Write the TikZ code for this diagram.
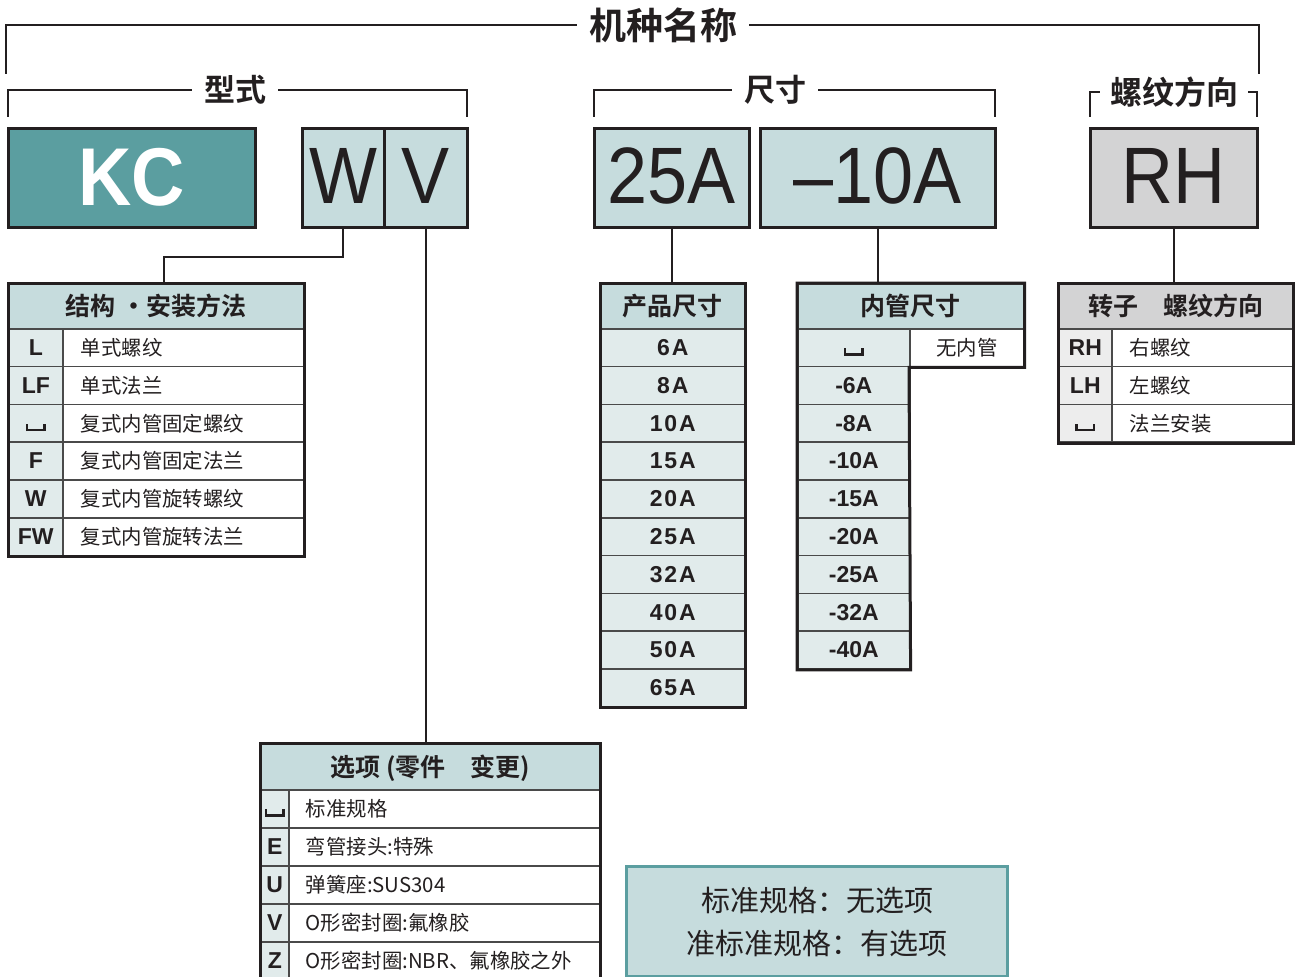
\documentclass[tikz,border=0pt]{standalone}
\usepackage{fontspec}
\setmainfont{Liberation Sans}
\newfontfamily\cjk{Noto Sans CJK SC}[BoldFont={Noto Sans CJK SC Bold}]
\newfontfamily\bigsans{Liberation Sans}[FakeStretch=0.9]
\newcommand\vsp{\rule{1.3pt}{3.6pt}\rule{7.4pt}{1.3pt}\rule{1.3pt}{3.6pt}}
\definecolor{linec}{HTML}{231F20}
\definecolor{gridc}{HTML}{4A4A4A}
\definecolor{kcfill}{HTML}{5B9EA0}
\definecolor{hdrfill}{HTML}{C6DCDD}
\definecolor{lightfill}{HTML}{E1EBEB}
\definecolor{grayhdr}{HTML}{D3D3D4}
\definecolor{graycode}{HTML}{EDEDED}
\tikzset{%
  ttl/.style={font=\cjk\bfseries\fontsize{#1}{#1}\selectfont, text=linec, inner xsep=6pt, inner ysep=0pt},
  brk/.style={draw=linec, line width=1pt},
  bigbox/.style={draw=linec, line width=1.5pt, minimum height=49.5pt, inner sep=0pt, text=linec,
    text height=26pt, text depth=0pt, font=\bigsans\fontsize{40}{40}\selectfont},
  cell/.style={draw=gridc, line width=0.8pt, anchor=north west, inner sep=0pt, minimum height=18.9pt,
    text height=7.8pt, text depth=0pt, text=linec},
  hcell/.style={cell, fill=hdrfill, minimum height=22.5pt, text height=9.2pt, font=\cjk\bfseries\fontsize{12.5}{12.5}\selectfont},
  ccell/.style={cell, fill=lightfill, font=\bfseries\fontsize{11.5}{11.5}\selectfont},
  tcell/.style={cell, fill=white, align=left, inner xsep=9pt, text width=#1, font=\cjk\fontsize{10.2}{10.2}\selectfont},
  frame/.style={draw=linec, line width=1.5pt},
  link/.style={draw=linec, line width=1pt},
}
\begin{document}
\begin{tikzpicture}[x=0.5pt,y=-0.5pt]%
      \useasboundingbox (0,0) rectangle (1296,976);%
      % ~ brackets
      \node[ttl=18.5] (mname) at (663,25) {机种名称};
      \coordinate (mL) at (6,74);
      \coordinate (mR) at (1259,74);
      \draw[brk] (mname) -| (mL);%
      \draw[brk] (mname) -| (mR);%
      \node[ttl=15.5] (tform) at (235,90) {型式};
      \coordinate (fL) at (8,117);
      \coordinate (fR) at (467,117);
      \draw[brk] (tform) -| (fL);%
      \draw[brk] (tform) -| (fR);%
      \node[ttl=15.5] (tsize) at (775,90) {尺寸};
      \coordinate (sL) at (594,117);
      \coordinate (sR) at (995,117);
      \draw[brk] (tsize) -| (sL);%
      \draw[brk] (tsize) -| (sR);%
      \node[ttl=16, inner xsep=5pt] (tthr) at (1174,92) {螺纹方向};
      \coordinate (rL) at (1090,117);
      \coordinate (rR) at (1257,117);
      \draw[brk] (tthr) -| (rL);%
      \draw[brk] (tthr) -| (rR);%
      % ~ code boxes
      \node[bigbox, fill=kcfill, text=white, minimum width=123.5pt, text height=27.5pt,
        font=\bigsans\bfseries\fontsize{41}{41}\selectfont] (KC) at (131.5,177.5) {KC};
      \node[bigbox, fill=hdrfill, minimum width=41pt] (W) at (343,177.5) {W};
      \node[bigbox, fill=hdrfill, minimum width=41.5pt] (V) at (425.5,177.5) {V};
      \node[bigbox, fill=hdrfill, minimum width=77.5pt] (sz25) at (671.5,177.5) {25A};
      \node[bigbox, fill=hdrfill, minimum width=117.5pt] (in10) at (877.5,177.5) {–10A};
      \node[bigbox, fill=grayhdr, minimum width=83.5pt] (RH) at (1173.5,177.5) {RH};
      % ~ structure table
      \node[hcell, minimum width=147.5pt] (sthd) at (8,283) {结构\hspace{3pt}・安装方法};
      \foreach \cd/\tx [count=\i] in {L/单式螺纹,LF/单式法兰,\vsp/复式内管固定螺纹,F/复式内管固定法兰,W/复式内管旋转螺纹,FW/复式内管旋转法兰}%
         {%
            \node[ccell, minimum width=27pt] (stc\i) at (8,{328+(\i-1)*37.8}) {\cd};
            \node[tcell=102.5pt, minimum width=120.5pt] (stt\i) at (62,{328+(\i-1)*37.8}) {\tx};
         }%
      \draw[frame] (sthd.north west) rectangle (stt6.south east);%
      % ~ size table
      \node[hcell, minimum width=72pt] (szhd) at (600,283) {产品尺寸};
      \foreach \s [count=\i] in {6A,8A,10A,15A,20A,25A,32A,40A,50A,65A}%
         {%
            \node[ccell, minimum width=72pt, font=\bfseries\fontsize{11.5}{11.5}\selectfont\addfontfeature{LetterSpace=8}]
              (sz\i) at (600,{328+(\i-1)*37.8}) {\s};
         }%
      \draw[frame] (szhd.north west) rectangle (sz10.south east);%
      % ~ inner pipe table
      \node[hcell, minimum width=113pt] (inhd) at (797,283) {内管尺寸};
      \node[ccell, minimum width=56pt] (in0) at (797,328) {\vsp};
      \node[cell, fill=white, minimum width=57pt, font=\cjk\fontsize{10.2}{10.2}\selectfont] (innone) at (909,328) {无内管};
      \foreach \s [count=\i] in {-6A,-8A,-10A,-15A,-20A,-25A,-32A,-40A}%
         {%
            \node[ccell, minimum width=56pt] (in\i) at (797,{328+\i*37.8}) {\s};
         }%
      \draw[frame] (inhd.north west) -- (inhd.north east) -- (innone.south east) -- (innone.south west)
         -- (in8.south east) -- (in8.south west) -- cycle;%
      % ~ rotor table
      \node[hcell, fill=grayhdr, minimum width=117pt] (rthd) at (1058,283) {转子\quad 螺纹方向};
      \foreach \cd/\tx [count=\i] in {RH/右螺纹,LH/左螺纹,\vsp/法兰安装}%
         {%
            \node[ccell, fill=graycode, minimum width=26.5pt] (rtc\i) at (1058,{328+(\i-1)*37.8}) {\cd};
            \node[tcell=72.5pt, minimum width=90.5pt] (rtt\i) at (1111,{328+(\i-1)*37.8}) {\tx};
         }%
      \draw[frame] (rthd.north west) rectangle (rtt3.south east);%
      % ~ option table
      \node[hcell, minimum width=169.5pt, minimum height=23pt] (ophd) at (260,743) {选项 (零件\quad 变更)};
      \foreach \cd/\tx [count=\i] in {\vsp/标准规格,E/弯管接头:特殊,U/弹簧座:SUS304,V/O形密封圈:氟橡胶,Z/O形密封圈:NBR、氟橡胶之外}%
         {%
            \node[ccell, minimum width=14pt] (opc\i) at (260,{789+(\i-1)*38}) {\cd};
            \node[tcell=138.5pt, minimum width=155.5pt, inner xsep=8.5pt] (opt\i) at (288,{789+(\i-1)*38}) {\tx};
         }%
      \draw[frame] (ophd.north west) rectangle (opt5.south east);%
      % ~ links
      \coordinate (wbend) at (164,257);
      \draw[link] (W.south) |- (wbend) -- (wbend |- sthd.north);%
      \draw[link] (V.south) -- (V.south |- ophd.north);%
      \draw[link] (sz25.south) -- (sz25.south |- szhd.north);%
      \draw[link] (in10.south) -- (in10.south |- inhd.north);%
      \draw[link] (RH.south) -- (RH.south |- rthd.north);%
      % ~ note
      \node[draw=kcfill, line width=1.5pt, fill=hdrfill, anchor=north west, minimum width=190.5pt, minimum height=55pt,
        align=center, text=linec, font=\cjk\fontsize{14.5}{21.5}\selectfont] (note) at (625,865)
        {标准规格：无选项\\准标准规格：有选项};
   \end{tikzpicture}
\end{document}
